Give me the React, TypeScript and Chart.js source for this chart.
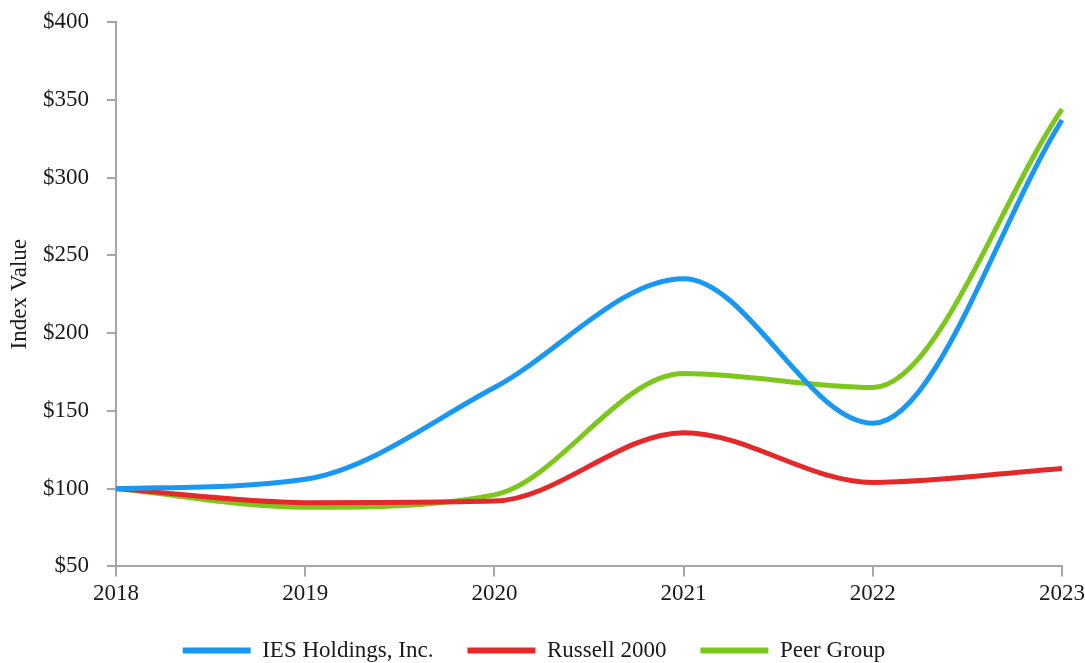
import React, { useEffect, useRef } from "react";
import { Chart, registerables } from "chart.js";

Chart.register(...registerables);

const years = ["2018", "2019", "2020", "2021", "2022", "2023"];
const iesValues = [100, 106, 165, 235, 142, 337];
const russellValues = [100, 91, 92, 136, 104, 113];
const peerValues = [100, 88, 96, 174, 165, 344];
const yTicks = [50, 100, 150, 200, 250, 300, 350, 400];

const FONT = "'Liberation Serif', 'Times New Roman', serif";
const AXIS = "#a6a6a6";
const FS = 23;

export default function App() {
  const ref = useRef<HTMLCanvasElement | null>(null);
  useEffect(() => {
    if (!ref.current) return;
    const mk = (label: string, data: number[], color: string) => ({
      label,
      data,
      borderColor: color,
      backgroundColor: color,
      borderWidth: 5,
      pointRadius: 0,
      cubicInterpolationMode: "monotone",
      fill: false,
    });
    const chart = new Chart(ref.current, {
      type: "line",
      data: {
        labels: years,
        datasets: [
          mk("IES Holdings, Inc.", iesValues, "#1898f2"),
          mk("Russell 2000", russellValues, "#e5292b"),
          mk("Peer Group", peerValues, "#7cc71b"),
        ],
      },
      options: {
        animation: false,
        responsive: true,
        maintainAspectRatio: false,
        layout: { padding: { top: 22, right: 23, left: 6, bottom: -9 } },
        plugins: {
          tooltip: { enabled: false },
          legend: {
            position: "bottom",
            labels: {
              font: { family: FONT, size: FS },
              color: "#1a1a1a",
              boxWidth: 68,
              boxHeight: 6,
              padding: 34,
              generateLabels: (c: any) =>
                c.data.datasets.map((d: any, i: number) => ({
                  text: d.label,
                  fillStyle: d.borderColor,
                  strokeStyle: d.borderColor,
                  lineWidth: 0,
                  hidden: false,
                  datasetIndex: i,
                  fontColor: "#1a1a1a",
                })),
            },
          },
        },
        scales: {
          x: {
            type: "category",
            offset: false,
            afterFit: (s: any) => {
              s.height = s.height - 7;
              s.paddingLeft = 0;
              s.paddingRight = 0;
            },
            grid: {
              display: true,
              drawOnChartArea: false,
              drawTicks: true,
              tickLength: 10,
              color: AXIS,
              lineWidth: 2,
            },
            border: { color: AXIS, width: 2 },
            ticks: {
              font: { family: FONT, size: FS },
              color: "#1a1a1a",
              padding: 4,
              maxRotation: 0,
            },
          },
          y: {
            min: 50,
            max: 400,
            afterBuildTicks: (axis: any) => {
              axis.ticks = yTicks.map((v) => ({ value: v }));
            },
            afterFit: (s: any) => {
              s.width = 110;
              s.paddingTop = 0;
              s.paddingBottom = 0;
            },
            grid: {
              display: true,
              drawOnChartArea: false,
              drawTicks: true,
              tickLength: 9,
              color: AXIS,
              lineWidth: 2,
            },
            border: { color: AXIS, width: 2 },
            ticks: {
              font: { family: FONT, size: FS },
              color: "#1a1a1a",
              padding: 18,
              callback: (v: any) => "$" + v,
            },
            title: {
              display: true,
              text: "Index Value",
              font: { family: FONT, size: FS },
              color: "#1a1a1a",
              padding: { top: 0, bottom: 0 },
            },
          },
        },
      },
    } as any);
    return () => chart.destroy();
  }, []);
  return (
    <div style={{ position: "fixed", left: 0, top: 0, width: 1085, height: 663, background: "#fff" }}>
      <canvas ref={ref} />
    </div>
  );
}
